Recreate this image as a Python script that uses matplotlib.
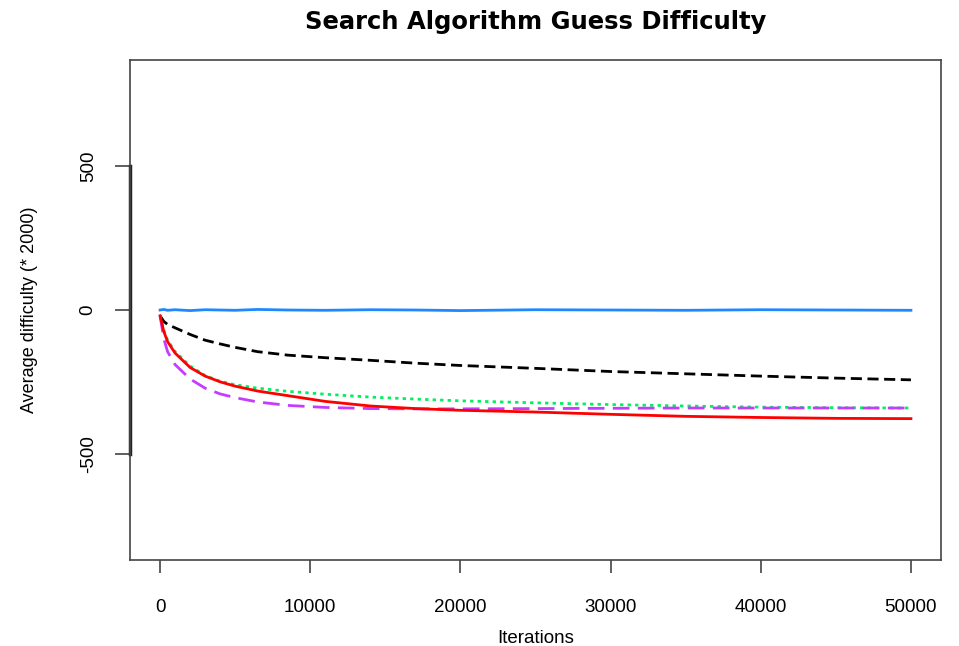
import matplotlib.pyplot as plt
import matplotlib.transforms as mtransforms

# values
iters = [0, 250, 500, 1000, 2000, 3000, 4000, 5000, 6500, 8500, 11000, 14000,
         17000, 20000, 25000, 30000, 35000, 40000, 45000, 50000]
blue = [0, 2, -1, 1, -2, 1, 0, -1, 2, 0, -1, 1, 0, -2, 1, 0, -1, 1, 0, -1]
black = [-20, -40, -50, -62, -85, -105, -118, -130, -145, -157, -166, -175,
         -185, -193, -203, -214, -222, -230, -237, -243]
red = [-20, -75, -110, -150, -200, -230, -250, -265, -282, -298, -318, -334,
       -343, -349, -355, -363, -370, -374, -377, -378]
green = [-20, -70, -105, -145, -195, -228, -248, -260, -272, -283, -293, -303,
         -310, -316, -323, -329, -334, -338, -340, -341]
magenta = [-20, -100, -145, -190, -240, -272, -292, -305, -320, -332, -339, -343,
           -344, -344, -343, -342, -341, -341, -341, -341]

xticks = [0, 10000, 20000, 30000, 40000, 50000]
yticks = [-500, 0, 500]

sans = ['Liberation Sans', 'DejaVu Sans']

fig = plt.figure(figsize=(9.59, 6.46), dpi=100)
ax = fig.add_axes([0.1356, 0.1331, 0.8456, 0.774])

ax.plot(iters, blue, color='#1E88FF', lw=2)
ax.plot(iters, black, color='black', lw=2, dashes=(4, 2))
ax.plot(iters, green, color='#00F060', lw=2, dashes=(1.2, 1.5))
ax.plot(iters, magenta, color='#C63CFF', lw=2, dashes=(6, 3))
ax.plot(iters, red, color='#FF0000', lw=2)

ax.set_xlim(-2000, 52000)
ax.set_ylim(-870, 870)

for s in ax.spines.values():
    s.set_color('#444444')
    s.set_linewidth(1.2)

# R style left axis line spanning the ticks only
trans = mtransforms.blended_transform_factory(ax.transAxes, ax.transData)
ax.plot([0, 0], [-500, 500], color='#222222', lw=2.5, transform=trans, clip_on=False)

ax.set_xticks(xticks)
ax.set_xticklabels([str(v) for v in xticks], family=sans, fontsize=13.5)
ax.set_yticks(yticks)
ax.set_yticklabels([str(v) for v in yticks], family=sans, fontsize=13.5,
                   rotation=90, va='center')
ax.tick_params(axis='x', length=9, width=1.2, color='#444444', pad=19)
ax.tick_params(axis='y', length=11, width=1.2, color='#444444', pad=13)

ax.set_xlabel('Iterations', family=sans, fontsize=13.5, labelpad=10)
ax.set_ylabel('Average difficulty (* 2000)', family=sans, fontsize=13,
              labelpad=30)
ax.set_title('Search Algorithm Guess Difficulty', family=['DejaVu Sans'],
             fontsize=17.5, fontweight='bold', pad=22)

plt.savefig('out.png', dpi=100)
plt.close()
